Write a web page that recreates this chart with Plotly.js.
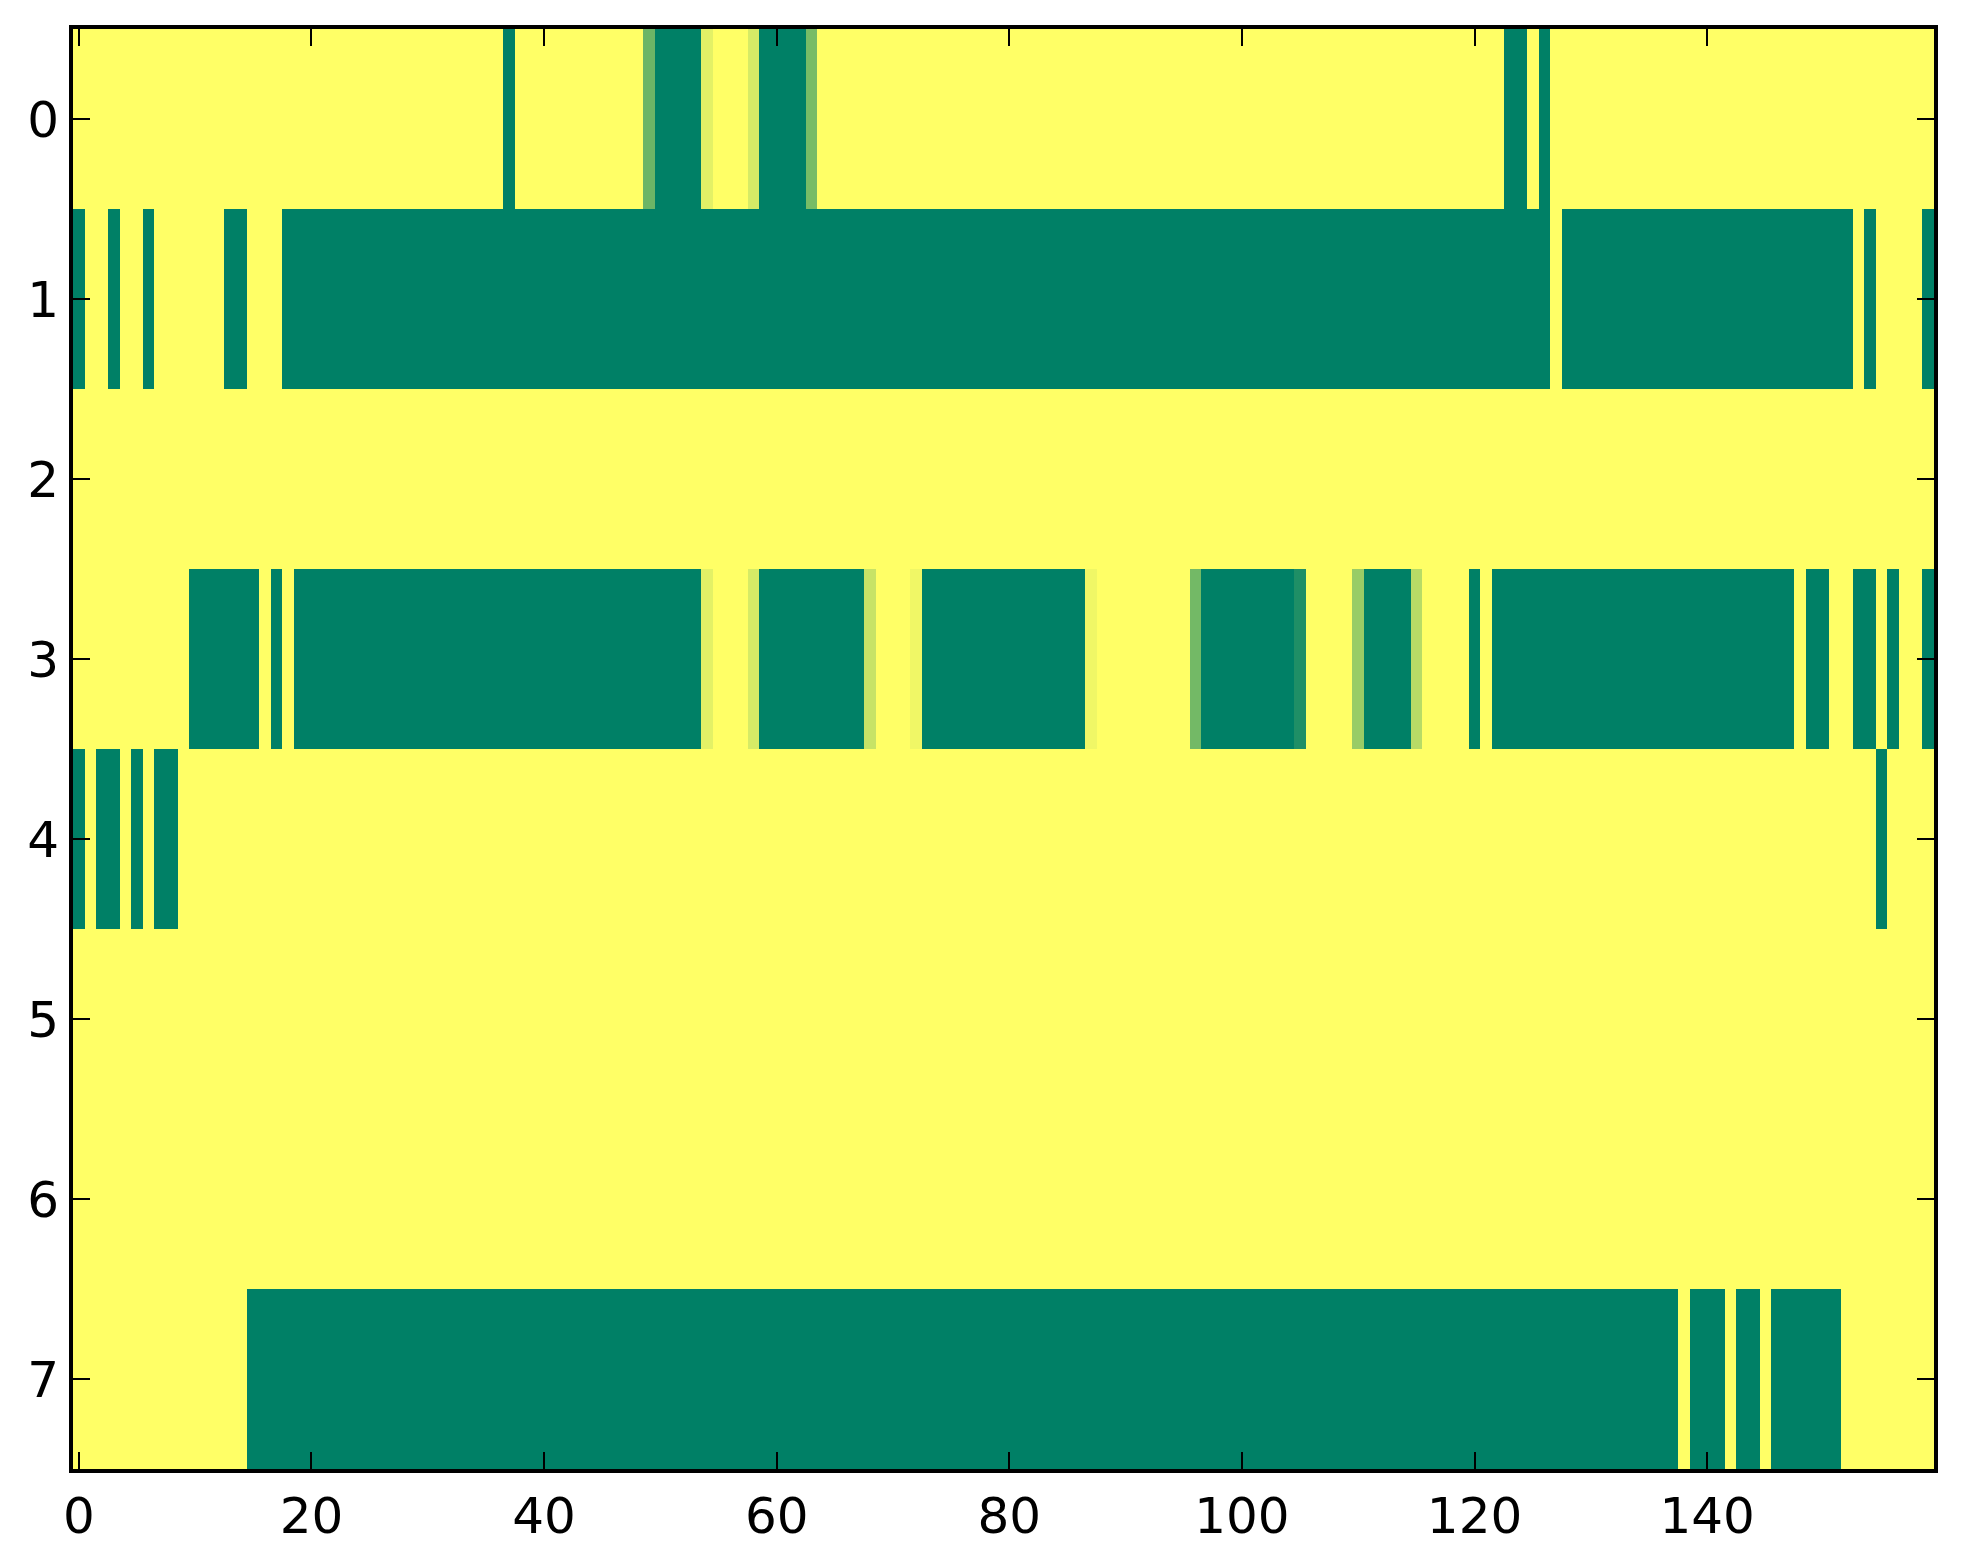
<!DOCTYPE html>
<html>
<head>
<meta charset="utf-8">
<script src="https://cdn.plot.ly/plotly-3.0.1.min.js"></script>
<style>
  html, body { margin: 0; padding: 0; background: #ffffff; }
  #chart { width: 1963px; height: 1564px; }
</style>
</head>
<body>
<div id="chart"></div>
<script>
// Row labels (y) and tick labels
const rowLabels = [0, 1, 2, 3, 4, 5, 6, 7];
const xTickVals = [0, 20, 40, 60, 80, 100, 120, 140];

// One array per row, 160 columns each (0 = green, 1 = yellow)
const row0 = [
  1,1,1,1,1,1,1,1,1,1,
  1,1,1,1,1,1,1,1,1,1,
  1,1,1,1,1,1,1,1,1,1,
  1,1,1,1,1,1,1,0,1,1,
  1,1,1,1,1,1,1,1,1,0.42,
  0,0,0,0,0.89,1,1,1,0.84,0,
  0,0,0,0.47,1,1,1,1,1,1,
  1,1,1,1,1,1,1,1,1,1,
  1,1,1,1,1,1,1,1,1,1,
  1,1,1,1,1,1,1,1,1,1,
  1,1,1,1,1,1,1,1,1,1,
  1,1,1,1,1,1,1,1,1,1,
  1,1,1,0,0,1,0,1,1,1,
  1,1,1,1,1,1,1,1,1,1,
  1,1,1,1,1,1,1,1,1,1,
  1,1,1,1,1,1,1,1,1,1
];
const row1 = [
  0,1,1,0,1,1,0,1,1,1,
  1,1,1,0,0,1,1,1,0,0,
  0,0,0,0,0,0,0,0,0,0,
  0,0,0,0,0,0,0,0,0,0,
  0,0,0,0,0,0,0,0,0,0,
  0,0,0,0,0,0,0,0,0,0,
  0,0,0,0,0,0,0,0,0,0,
  0,0,0,0,0,0,0,0,0,0,
  0,0,0,0,0,0,0,0,0,0,
  0,0,0,0,0,0,0,0,0,0,
  0,0,0,0,0,0,0,0,0,0,
  0,0,0,0,0,0,0,0,0,0,
  0,0,0,0,0,0,0,1,0,0,
  0,0,0,0,0,0,0,0,0,0,
  0,0,0,0,0,0,0,0,0,0,
  0,0,0,1,0,1,1,1,1,0
];
const row2 = [
  1,1,1,1,1,1,1,1,1,1,
  1,1,1,1,1,1,1,1,1,1,
  1,1,1,1,1,1,1,1,1,1,
  1,1,1,1,1,1,1,1,1,1,
  1,1,1,1,1,1,1,1,1,1,
  1,1,1,1,1,1,1,1,1,1,
  1,1,1,1,1,1,1,1,1,1,
  1,1,1,1,1,1,1,1,1,1,
  1,1,1,1,1,1,1,1,1,1,
  1,1,1,1,1,1,1,1,1,1,
  1,1,1,1,1,1,1,1,1,1,
  1,1,1,1,1,1,1,1,1,1,
  1,1,1,1,1,1,1,1,1,1,
  1,1,1,1,1,1,1,1,1,1,
  1,1,1,1,1,1,1,1,1,1,
  1,1,1,1,1,1,1,1,1,1
];
const row3 = [
  1,1,1,1,1,1,1,1,1,1,
  0,0,0,0,0,0,1,0,1,0,
  0,0,0,0,0,0,0,0,0,0,
  0,0,0,0,0,0,0,0,0,0,
  0,0,0,0,0,0,0,0,0,0,
  0,0,0,0,0.89,1,1,1,0.84,0,
  0,0,0,0,0,0,0,0,0.78,1,
  1,1,0.94,0,0,0,0,0,0,0,
  0,0,0,0,0,0,0,0.94,1,1,
  1,1,1,1,1,1,0.45,0,0,0,
  0,0,0,0,0,0.12,1,1,1,1,
  0.6,0,0,0,0,0.72,1,1,1,1,
  0,1,0,0,0,0,0,0,0,0,
  0,0,0,0,0,0,0,0,0,0,
  0,0,0,0,0,0,0,0,1,0,
  0,1,1,0,0,1,0,1,1,0
];
const row4 = [
  0,1,0,0,1,0,1,0,0,1,
  1,1,1,1,1,1,1,1,1,1,
  1,1,1,1,1,1,1,1,1,1,
  1,1,1,1,1,1,1,1,1,1,
  1,1,1,1,1,1,1,1,1,1,
  1,1,1,1,1,1,1,1,1,1,
  1,1,1,1,1,1,1,1,1,1,
  1,1,1,1,1,1,1,1,1,1,
  1,1,1,1,1,1,1,1,1,1,
  1,1,1,1,1,1,1,1,1,1,
  1,1,1,1,1,1,1,1,1,1,
  1,1,1,1,1,1,1,1,1,1,
  1,1,1,1,1,1,1,1,1,1,
  1,1,1,1,1,1,1,1,1,1,
  1,1,1,1,1,1,1,1,1,1,
  1,1,1,1,1,0,1,1,1,1
];
const row5 = [
  1,1,1,1,1,1,1,1,1,1,
  1,1,1,1,1,1,1,1,1,1,
  1,1,1,1,1,1,1,1,1,1,
  1,1,1,1,1,1,1,1,1,1,
  1,1,1,1,1,1,1,1,1,1,
  1,1,1,1,1,1,1,1,1,1,
  1,1,1,1,1,1,1,1,1,1,
  1,1,1,1,1,1,1,1,1,1,
  1,1,1,1,1,1,1,1,1,1,
  1,1,1,1,1,1,1,1,1,1,
  1,1,1,1,1,1,1,1,1,1,
  1,1,1,1,1,1,1,1,1,1,
  1,1,1,1,1,1,1,1,1,1,
  1,1,1,1,1,1,1,1,1,1,
  1,1,1,1,1,1,1,1,1,1,
  1,1,1,1,1,1,1,1,1,1
];
const row6 = [
  1,1,1,1,1,1,1,1,1,1,
  1,1,1,1,1,1,1,1,1,1,
  1,1,1,1,1,1,1,1,1,1,
  1,1,1,1,1,1,1,1,1,1,
  1,1,1,1,1,1,1,1,1,1,
  1,1,1,1,1,1,1,1,1,1,
  1,1,1,1,1,1,1,1,1,1,
  1,1,1,1,1,1,1,1,1,1,
  1,1,1,1,1,1,1,1,1,1,
  1,1,1,1,1,1,1,1,1,1,
  1,1,1,1,1,1,1,1,1,1,
  1,1,1,1,1,1,1,1,1,1,
  1,1,1,1,1,1,1,1,1,1,
  1,1,1,1,1,1,1,1,1,1,
  1,1,1,1,1,1,1,1,1,1,
  1,1,1,1,1,1,1,1,1,1
];
const row7 = [
  1,1,1,1,1,1,1,1,1,1,
  1,1,1,1,1,0,0,0,0,0,
  0,0,0,0,0,0,0,0,0,0,
  0,0,0,0,0,0,0,0,0,0,
  0,0,0,0,0,0,0,0,0,0,
  0,0,0,0,0,0,0,0,0,0,
  0,0,0,0,0,0,0,0,0,0,
  0,0,0,0,0,0,0,0,0,0,
  0,0,0,0,0,0,0,0,0,0,
  0,0,0,0,0,0,0,0,0,0,
  0,0,0,0,0,0,0,0,0,0,
  0,0,0,0,0,0,0,0,0,0,
  0,0,0,0,0,0,0,0,0,0,
  0,0,0,0,0,0,0,0,1,0,
  0,0,1,0,0,1,0,0,0,0,
  0,0,1,1,1,1,1,1,1,1
];

const zRows = [row0, row1, row2, row3, row4, row5, row6, row7];

// matplotlib "summer" colormap (linear green -> yellow)
const summer = [[0, 'rgb(0,128,102)'], [1, 'rgb(255,255,102)']];

const trace = {
  type: 'heatmap',
  z: zRows,
  y: rowLabels,
  colorscale: summer,
  zmin: 0,
  zmax: 1,
  showscale: false,
  zsmooth: false,
  hoverinfo: 'skip'
};

const axisFont = { family: 'DejaVu Sans, sans-serif', size: 50, color: '#000000' };

const layout = {
  width: 1963,
  height: 1564,
  margin: { l: 73, r: 29, t: 29, b: 95, pad: 0 },
  paper_bgcolor: '#ffffff',
  plot_bgcolor: '#ffffff',
  showlegend: false,
  xaxis: {
    range: [-0.5, 159.5],
    tickmode: 'array',
    tickvals: xTickVals,
    ticktext: xTickVals.map(String),
    ticks: 'inside',
    ticklen: 17,
    tickwidth: 2,
    tickcolor: '#000000',
    showline: true,
    linewidth: 4,
    linecolor: '#000000',
    mirror: 'ticks',
    showgrid: false,
    zeroline: false,
    tickfont: axisFont,
    ticklabelstandoff: 0
  },
  yaxis: {
    range: [7.5, -0.5],
    tickmode: 'array',
    tickvals: rowLabels,
    ticktext: rowLabels.map(String),
    ticks: 'inside',
    ticklen: 17,
    tickwidth: 2,
    tickcolor: '#000000',
    showline: true,
    linewidth: 4,
    linecolor: '#000000',
    mirror: 'ticks',
    showgrid: false,
    zeroline: false,
    tickfont: axisFont,
    ticklabelstandoff: 0
  }
};

Plotly.newPlot('chart', [trace], layout, { staticPlot: true, displayModeBar: false });
</script>
</body>
</html>
